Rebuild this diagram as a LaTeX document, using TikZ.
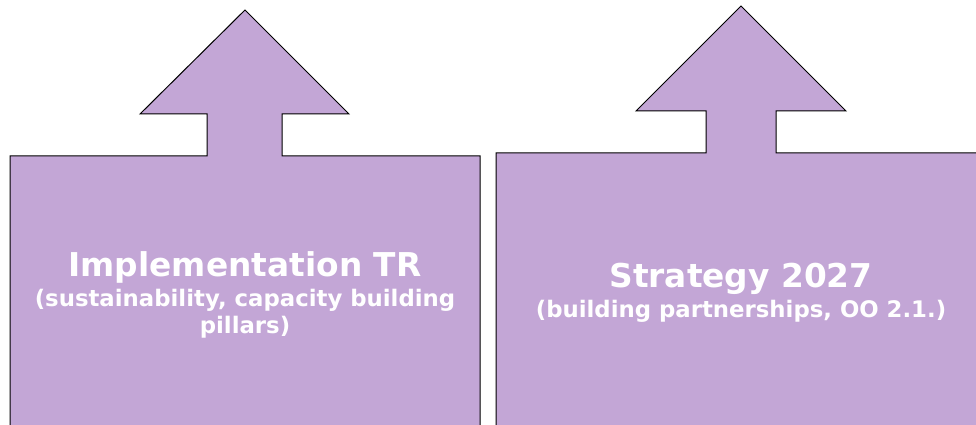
\documentclass[tikz,border=0pt]{standalone}
\usepackage{fontspec}
\setmainfont{DejaVu Sans}
\usepackage{tikz}
\usetikzlibrary{positioning}
\usepackage{xcolor}
\definecolor{lilac}{HTML}{C3A6D6}
\tikzset{upbox/.style={draw=black,fill=lilac,line width=1pt,line join=miter}}
\tikzset{headtext/.style={text=white,font=\bfseries\fontsize{32.8}{36}\selectfont,inner sep=0pt}}
\tikzset{subtext/.style={text=white,font=\bfseries\fontsize{22.8}{27}\selectfont,inner sep=0pt,align=center}}

\begin{document}
\begin{tikzpicture}[x=1pt,y=1pt]
        \useasboundingbox (0,0) rectangle (976,425);
        \clip (0,0) rectangle (976,425);
        % left box with arrow
        \draw[upbox] (10,-20) -- (10,269) -- (207,269) -- (207,311) -- (140,311) -- (245,415)
            -- (349,311) -- (282,311) -- (282,269) -- (480,269) -- (480,-20);
        % right box with arrow
        \draw[upbox] (496,-20) -- (496,272) -- (706,272) -- (706,314) -- (636,314) -- (741,419)
            -- (846,314) -- (776,314) -- (776,272) -- (990,272) -- (990,-20);

        \node[headtext,anchor=base] (impl) at (245,148) {Implementation TR};
        \node[subtext,anchor=base] (implsub) at (245,91) {(sustainability, capacity building\\pillars)};
        \node[headtext,anchor=base] (strat) at (741,137) {Strategy 2027};
        \node[subtext,anchor=base] (stratsub) at (741,107) {(building partnerships, OO 2.1.)};
    \end{tikzpicture}
\end{document}
